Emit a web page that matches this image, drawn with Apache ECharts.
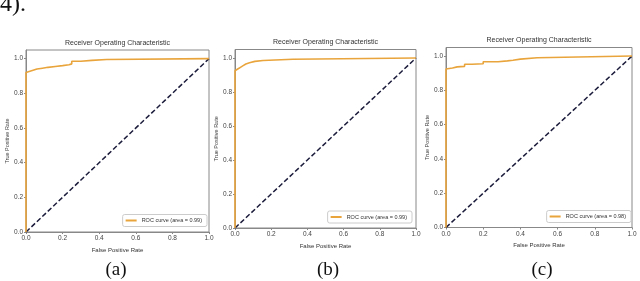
<!DOCTYPE html>
<html><head><meta charset="utf-8">
<script src="https://cdn.jsdelivr.net/npm/echarts@6/dist/echarts.min.js"></script>
<style>html,body{margin:0;padding:0;background:#fff}#c{width:640px;height:281px}</style>
</head><body><div id="c"></div>
<script>
const panelLabels = ['(a)', '(b)', '(c)'];
const chartTitle = 'Receiver Operating Characteristic';
const xName = 'False Positive Rate';
const yName = 'True Positive Rate';
const xTicks = [0, 0.2, 0.4, 0.6, 0.8, 1.0];
const legendNames = ['ROC curve (area = 0.99)', 'ROC curve (area = 0.99)', 'ROC curve (area = 0.98)'];

const fprA = [0, 0, 0.01, 0.03, 0.06, 0.09, 0.12, 0.16, 0.2, 0.235, 0.25, 0.3, 0.36, 0.44, 1.0];
const tprA = [0, 0.92, 0.93, 0.94, 0.945, 0.95, 0.955, 0.96, 0.965, 0.97, 0.985, 0.99, 0.995, 1.0, 1.0];
const fprB = [0, 0, 0.005, 0.015, 0.03, 0.045, 0.06, 0.08, 0.11, 0.155, 0.32, 1.0];
const tprB = [0, 0.925, 0.935, 0.945, 0.955, 0.965, 0.972, 0.98, 0.985, 0.993, 1.0, 1.0];
const fprC = [0, 0, 0.01, 0.035, 0.06, 0.1, 0.14, 0.2, 0.28, 0.33, 0.36, 0.4, 0.49, 1.0];
const tprC = [0, 0.925, 0.93, 0.937, 0.94, 0.952, 0.955, 0.967, 0.972, 0.976, 0.982, 0.99, 1.0, 1.0];
const diagX = [0, 1];
const diagY = [0, 1];

const fprs = [fprA, fprB, fprC];
const tprs = [tprA, tprB, tprC];
const grids = [
  {left: 26, top: 50, width: 183, height: 182},
  {left: 235, top: 49.5, width: 181, height: 178.5},
  {left: 446, top: 47.5, width: 186, height: 180}
];
const labelPos = [116, 328, 542];
const titleTop = [39.5, 38.5, 36.5];
const legendRight = [433, 228, 9];
const legendTop = [214.5, 211, 210.5];

const chart = echarts.init(document.getElementById('c'), null, {renderer: 'canvas'});
const font = 'Liberation Sans';
const fmt = v => (Math.abs(v - Math.round(v * 5) / 5) < 1e-6 ? v.toFixed(1) : '');
const option = {
  animation: false,
  backgroundColor: '#fff',
  title: grids.map((g, i) => ({
    text: chartTitle, left: g.left + g.width / 2, top: titleTop[i], textAlign: 'center', padding: 0,
    textStyle: {fontSize: 7, fontWeight: 'normal', color: '#333', fontFamily: font}
  })),
  grid: grids.map(g => Object.assign({show: true, borderColor: '#888', borderWidth: 1, backgroundColor: '#fff'}, g)),
  legend: grids.map((g, i) => ({
    data: [legendNames[i]], right: legendRight[i], top: legendTop[i],
    orient: 'vertical', itemWidth: 11, itemHeight: 2, itemGap: 0,
    padding: [3, 5, 3, 3], borderColor: '#ccc', borderWidth: 1, borderRadius: 2, backgroundColor: '#fff',
    icon: 'rect', selectedMode: false,
    textStyle: {fontSize: 5.5, color: '#333', fontFamily: font}
  })),
  xAxis: grids.map((g, i) => ({
    type: 'value', gridIndex: i, min: 0, max: 1, interval: 0.2,
    name: xName, nameLocation: 'middle', nameGap: 13,
    nameTextStyle: {fontSize: 6, color: '#333', fontFamily: font},
    axisLine: {show: true, onZero: false, lineStyle: {color: '#888'}},
    axisTick: {show: true, length: 2, lineStyle: {color: '#888'}},
    axisLabel: {fontSize: 6.5, color: '#444', margin: 3, fontFamily: font, formatter: fmt},
    splitLine: {show: false}
  })),
  yAxis: grids.map((g, i) => ({
    type: 'value', gridIndex: i, min: 0, max: 1.05, interval: 0.2,
    name: yName, nameLocation: 'middle', nameGap: 15, nameRotate: 90,
    nameTextStyle: {fontSize: 5.5, color: '#444', fontFamily: font},
    axisLine: {show: true, onZero: false, lineStyle: {color: '#888'}},
    axisTick: {show: true, length: 2, lineStyle: {color: '#888'}},
    axisLabel: {fontSize: 6.5, color: '#444', margin: 3, fontFamily: font, formatter: fmt, showMaxLabel: false},
    splitLine: {show: false}
  })),
  series: [].concat(...grids.map((g, i) => [
    {
      type: 'line', name: legendNames[i], xAxisIndex: i, yAxisIndex: i,
      data: fprs[i].map((x, k) => [x, tprs[i][k]]), step: 'end', showSymbol: false,
      lineStyle: {color: '#e9a53c', width: 1.6}, itemStyle: {color: '#e9a53c'}, z: 3
    },
    {
      type: 'line', name: 'diag' + i, xAxisIndex: i, yAxisIndex: i,
      data: diagX.map((x, k) => [x, diagY[k]]), showSymbol: false,
      lineStyle: {color: '#1c1c3c', width: 1.5, type: [5, 2.5]}, itemStyle: {color: '#1c1c3c'}, z: 2
    }
  ])),
  graphic: [
    {type: 'text', left: 0, top: -7, style: {text: '4).', fontSize: 24, fontFamily: 'Liberation Serif', fill: '#111'}}
  ].concat(panelLabels.map((t, i) => ({
    type: 'text', x: labelPos[i], y: 270, style: {text: t, fontSize: 19, fontFamily: 'Liberation Serif', fill: '#111', align: 'center', verticalAlign: 'middle'}
  })))
};
chart.setOption(option);
</script></body></html>
